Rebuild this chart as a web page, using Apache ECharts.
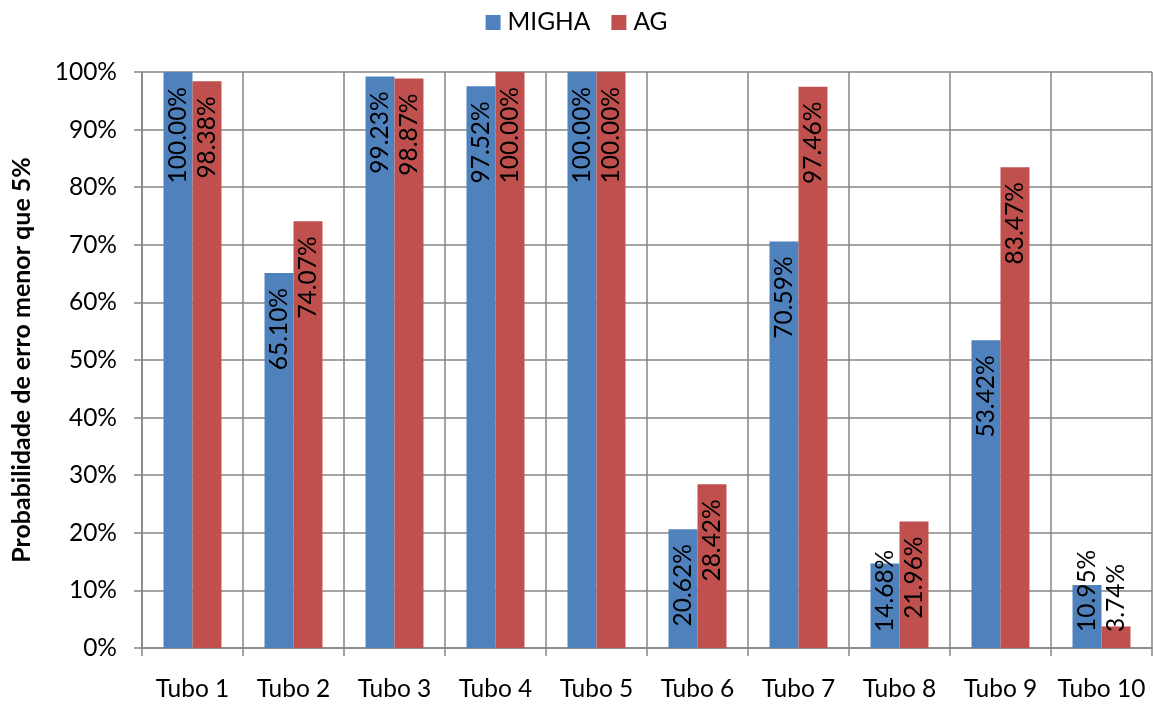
<!DOCTYPE html>
<html>
<head>
<meta charset="utf-8">
<script src="https://cdn.jsdelivr.net/npm/echarts@6/dist/echarts.min.js"></script>
<style>
  html, body { margin: 0; padding: 0; background: #fff; }
  #chart { width: 1153px; height: 704px; }
</style>
</head>
<body>
<div id="chart"></div>
<script>
const categories = ['Tubo 1', 'Tubo 2', 'Tubo 3', 'Tubo 4', 'Tubo 5', 'Tubo 6', 'Tubo 7', 'Tubo 8', 'Tubo 9', 'Tubo 10'];
const migha = [100.00, 65.10, 99.23, 97.52, 100.00, 20.62, 70.59, 14.68, 53.42, 10.95];
const ag = [98.38, 74.07, 98.87, 100.00, 100.00, 28.42, 97.46, 21.96, 83.47, 3.74];
const yTicks = [0, 10, 20, 30, 40, 50, 60, 70, 80, 90, 100];

const FONT = 'Lato, "Open Sans", sans-serif';
const FS = 24.5;
const GRID_COLOR = '#868686';

// Short bars keep their labels resting near the axis instead of hanging below it.
function barData(values) {
  return values.map(v => {
    if (v < 17) {
      return {
        value: v,
        label: { position: 'insideBottom', align: 'left', distance: 16 }
      };
    }
    return v;
  });
}

const labelStyle = {
  show: true,
  rotate: 90,
  position: 'insideTop',
  align: 'right',
  verticalAlign: 'middle',
  distance: 15,
  color: '#000',
  fontFamily: FONT,
  fontSize: FS,
  formatter: p => p.value.toFixed(2) + '%'
};

const chart = echarts.init(document.getElementById('chart'), null, { renderer: 'canvas' });
chart.setOption({
  animation: false,
  textStyle: { fontFamily: FONT },
  legend: {
    top: 5,
    left: 'center',
    itemWidth: 15,
    itemHeight: 15,
    itemGap: 21,
    icon: 'rect',
    textStyle: { fontSize: FS, color: '#000', fontFamily: FONT, padding: [0, 0, 0, 2] },
    data: ['MIGHA', 'AG']
  },
  grid: {
    left: 142, top: 72, width: 1010, height: 576,
    containLabel: false,
    outerBoundsMode: 'none'
  },
  xAxis: {
    type: 'category',
    data: categories,
    axisLine: { show: true, lineStyle: { color: GRID_COLOR, width: 1.5 } },
    axisTick: { show: true, length: 8, alignWithLabel: false, lineStyle: { color: GRID_COLOR, width: 1.5 } },
    axisLabel: { color: '#000', fontSize: FS, fontFamily: FONT, margin: 29, interval: 0 },
    splitLine: { show: true, lineStyle: { color: GRID_COLOR, width: 1.5 } }
  },
  yAxis: {
    type: 'value',
    min: 0,
    max: 100,
    interval: 10,
    name: 'Probabilidade de erro menor que 5%',
    nameLocation: 'middle',
    nameGap: 108,
    nameTextStyle: { color: '#000', fontSize: 25, fontWeight: 'bold', fontFamily: FONT },
    axisLine: { show: true, lineStyle: { color: GRID_COLOR, width: 1.5 } },
    axisTick: { show: true, length: 8, lineStyle: { color: GRID_COLOR, width: 1.5 } },
    axisLabel: {
      color: '#000', fontSize: FS, fontFamily: FONT, margin: 25,
      formatter: v => (yTicks.includes(v) ? v + '%' : '')
    },
    splitLine: { show: true, lineStyle: { color: GRID_COLOR, width: 1.5 } }
  },
  series: [
    {
      name: 'MIGHA',
      type: 'bar',
      data: barData(migha),
      barGap: '0%',
      barCategoryGap: '42.6%',
      itemStyle: { color: '#4F81BD' },
      label: labelStyle
    },
    {
      name: 'AG',
      type: 'bar',
      data: barData(ag),
      barGap: '0%',
      barCategoryGap: '42.6%',
      itemStyle: { color: '#C0504D' },
      label: labelStyle
    }
  ]
});
</script>
</body>
</html>
